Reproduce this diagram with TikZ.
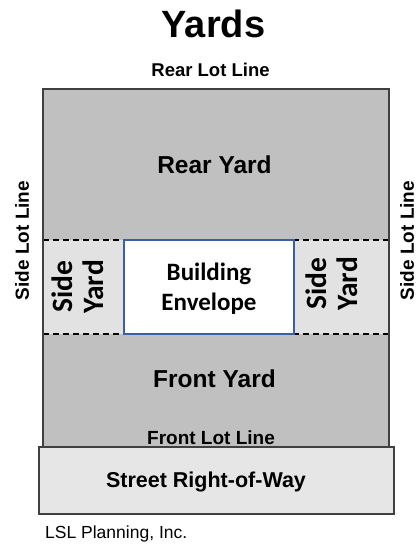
\documentclass[tikz,border=0pt]{standalone}
\usepackage{fontspec}
\setmainfont{Liberation Sans}
\newfontfamily\calib{Carlito}
\definecolor{darkyard}{HTML}{C0C0C0}
\definecolor{lightyard}{HTML}{E2E2E2}
\definecolor{streetfill}{HTML}{E6E6E6}
\definecolor{edge}{HTML}{404040}
\definecolor{envblue}{HTML}{3B5EA8}
\begin{document}
\begin{tikzpicture}[x=1pt,y=-1pt,
  lbl/.style={font=\bfseries\fontsize{#1}{#1}\selectfont, inner sep=0pt, anchor=base},
  sidelbl/.style={font=\calib\bfseries\fontsize{29.5}{31}\selectfont, inner sep=0pt, align=center, rotate=90},
  dashline/.style={dashed, dash pattern=on 6pt off 4pt, line width=1.4pt, black}]
\useasboundingbox (0,0) rectangle (417,544);
% lot
\fill[darkyard] (43,89) rectangle (389,447);
\fill[lightyard] (43,240) rectangle (389,334);
\draw[dashline] (43,240) -- (389,240);
\draw[dashline] (43,334) -- (389,334);
\draw[edge, line width=1.6pt] (43,89) rectangle (389,447);
% building envelope
\node[draw=envblue, fill=white, line width=1.3pt, minimum width=170pt, minimum height=94pt, inner sep=0pt] (env) at (209,287) {};
\node[font=\calib\bfseries\fontsize{25}{30}\selectfont, inner sep=0pt, anchor=base] (b1) at (209,280) {Building};
\node[font=\calib\bfseries\fontsize{25}{30}\selectfont, inner sep=0pt, anchor=base] (b2) at (209,310) {Envelope};
% street
\node[draw=edge, fill=streetfill, line width=1.4pt, minimum width=355pt, minimum height=67pt, inner sep=0pt] (street) at (216.5,480.5) {};
% labels
\node[lbl=38] (title) at (213.5,37) {Yards};
\node[lbl=18.5] (rear) at (210.5,76) {Rear Lot Line};
\node[lbl=24.5] (ry) at (214.5,173) {Rear Yard};
\node[lbl=24.5] (fy) at (214.5,387) {Front Yard};
\node[lbl=19] (front) at (211,444) {Front Lot Line};
\node[lbl=21.5] (st) at (206,487) {Street Right-of-Way};
\node[font=\fontsize{17.5}{17.5}\selectfont, inner sep=0pt, anchor=base west] (lsl) at (45,538) {LSL Planning, Inc.};
\node[font=\bfseries\fontsize{19}{19}\selectfont, inner sep=0pt, rotate=90] (sll) at (22,240.5) {Side Lot Line};
\node[font=\bfseries\fontsize{19}{19}\selectfont, inner sep=0pt, rotate=90] (slr) at (407,240.5) {Side Lot Line};
\node[sidelbl] (syl) at (78,287) {Side\\Yard};
\node[sidelbl] (syr) at (332,284) {Side\\Yard};
\end{tikzpicture}
\end{document}
